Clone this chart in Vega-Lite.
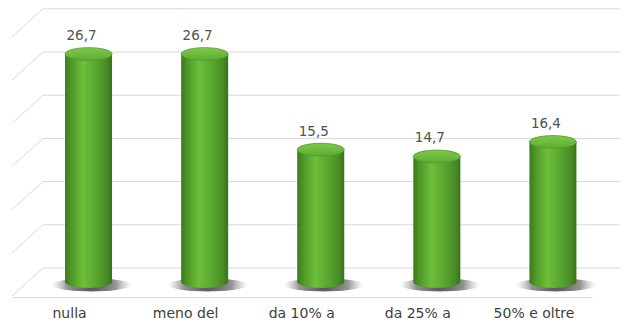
{
  "$schema": "https://vega.github.io/schema/vega-lite/v6.json",
  "width": 608,
  "height": 297,
  "autosize": {"type": "none"},
  "padding": {"left": 12, "top": 0, "right": 0, "bottom": 23},
  "background": "white",
  "config": {
    "view": {"stroke": null},
    "locale": {"number": {"decimal": ",", "thousands": ".", "grouping": [3], "currency": ["", " €"]}}
  },
  "datasets": {
    "bars": [
      {"cat": "nulla", "v": 26.7},
      {"cat": "meno del", "v": 26.7},
      {"cat": "da 10% a", "v": 15.5},
      {"cat": "da 25% a", "v": 14.7},
      {"cat": "50% e oltre", "v": 16.4}
    ],
    "grid": [
      {"level": 0}, {"level": 5}, {"level": 10}, {"level": 15},
      {"level": 20}, {"level": 25}, {"level": 30}
    ]
  },
  "layer": [
    {
      "data": {"name": "grid"},
      "layer": [
        {
          "mark": {"type": "rule", "color": "#d9d9d9", "strokeWidth": 1},
          "encoding": {
            "x": {"datum": 1, "type": "quantitative", "scale": {"domain": [0, 1], "range": [0, 31]}, "axis": null},
            "x2": {"value": "width"},
            "y": {"field": "level", "type": "quantitative", "scale": {"domain": [-3.356, 31.02], "nice": false, "zero": false}, "axis": null}
          }
        },
        {
          "mark": {"type": "rule", "color": "#d9d9d9", "strokeWidth": 1, "y2Offset": 28},
          "encoding": {
            "x": {"datum": 1, "type": "quantitative"},
            "x2": {"datum": 0},
            "y": {"field": "level", "type": "quantitative"},
            "y2": {"field": "level"}
          }
        }
      ]
    },
    {
      "data": {"name": "bars"},
      "encoding": {
        "x": {
          "field": "cat", "type": "nominal", "sort": null,
          "scale": {"range": [0, 580], "paddingInner": 0.595, "paddingOuter": 0.2955, "align": 0.773},
          "axis": {
            "orient": "bottom",
            "title": null, "labelAngle": 0, "ticks": false, "grid": false,
            "domain": true, "domainColor": "#d9d9d9", "domainWidth": 1,
            "labelFont": "DejaVu Sans", "labelFontSize": 14, "labelColor": "#404040",
            "labelBaseline": "alphabetic", "labelPadding": 20, "labelOffset": -19
          }
        }
      },
      "layer": [
        {
          "mark": {
            "type": "point", "filled": true, "size": 6400, "xOffset": 3, "yOffset": 3,
            "shape": "M-1,0A1,0.16,0,1,0,1,0A1,0.16,0,1,0,-1,0Z",
            "fill": {"gradient": "radial", "stops": [
              {"offset": 0, "color": "rgba(70,70,70,0.95)"},
              {"offset": 0.6, "color": "rgba(100,100,100,0.7)"},
              {"offset": 1, "color": "rgba(160,160,160,0)"}
            ]},
            "opacity": 1
          },
          "encoding": {
            "y": {"datum": 0, "type": "quantitative", "scale": {"domain": [-1.756, 33.02], "nice": false, "zero": false}, "axis": null}
          }
        },
        {
          "mark": {
            "type": "bar",
            "fill": {"gradient": "linear", "x1": 0, "y1": 0, "x2": 1, "y2": 0, "stops": [
              {"offset": 0, "color": "#3a7a1b"},
              {"offset": 0.12, "color": "#4c9626"},
              {"offset": 0.38, "color": "#6cbf3b"},
              {"offset": 0.7, "color": "#56a22d"},
              {"offset": 0.9, "color": "#468a24"},
              {"offset": 1, "color": "#37721a"}
            ]}
          },
          "encoding": {
            "y": {"field": "v", "type": "quantitative"},
            "y2": {"datum": 0}
          }
        },
        {
          "mark": {
            "type": "point", "filled": true, "size": 2209, "strokeWidth": 0,
            "shape": "M-1,0A1,0.25,0,1,0,1,0A1,0.25,0,1,0,-1,0Z",
            "fill": {"gradient": "linear", "x1": 0, "y1": 0, "x2": 1, "y2": 0, "stops": [
              {"offset": 0, "color": "#3a7a1b"},
              {"offset": 0.12, "color": "#4c9626"},
              {"offset": 0.38, "color": "#6cbf3b"},
              {"offset": 0.7, "color": "#56a22d"},
              {"offset": 0.9, "color": "#468a24"},
              {"offset": 1, "color": "#37721a"}
            ]},
            "opacity": 1
          },
          "encoding": {
            "y": {"datum": 0, "type": "quantitative"}
          }
        },
        {
          "mark": {
            "type": "point", "filled": true, "size": 2209,
            "shape": "M-1,0A1,0.27,0,1,0,1,0A1,0.27,0,1,0,-1,0Z",
            "fill": {"gradient": "linear", "x1": 0, "y1": 0, "x2": 0, "y2": 1, "stops": [
              {"offset": 0, "color": "#7ccb4a"},
              {"offset": 1, "color": "#5fab33"}
            ]},
            "stroke": "#55952d", "strokeWidth": 0.8, "opacity": 1
          },
          "encoding": {
            "y": {"field": "v", "type": "quantitative"}
          }
        },
        {
          "mark": {"type": "text", "dy": -14, "dx": -7, "font": "DejaVu Sans", "fontSize": 13.5, "color": "#505050", "baseline": "alphabetic"},
          "encoding": {
            "y": {"field": "v", "type": "quantitative"},
            "text": {"field": "v", "type": "quantitative", "format": ".1f"}
          }
        }
      ]
    }
  ],
  "resolve": {"scale": {"x": "independent", "y": "independent"}, "axis": {"x": "independent", "y": "independent"}}
}
